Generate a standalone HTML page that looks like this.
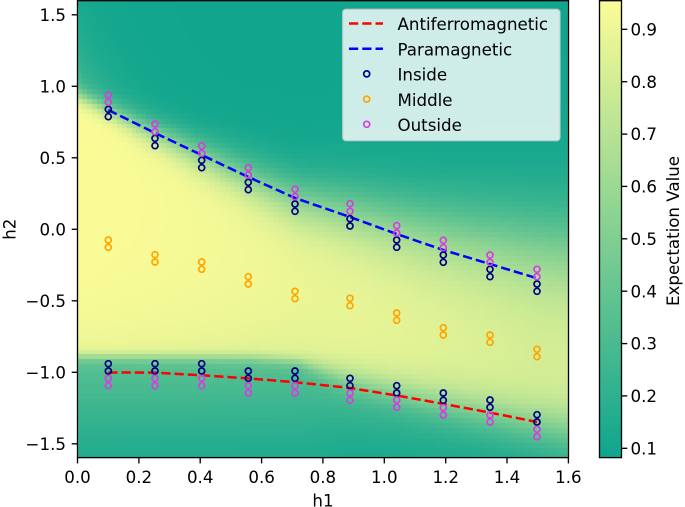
<!DOCTYPE html>
<html>
<head>
<meta charset="utf-8">
<style>
html,body{margin:0;padding:0;background:#fff;}
#wrap{position:relative;width:685px;height:507px;overflow:hidden;background:#fff;}
#c{position:absolute;left:0;top:0;}
#s{position:absolute;left:0;top:0;}
text{font-family:"DejaVu Sans","Liberation Sans",sans-serif;font-size:16.67px;fill:#000;}
</style>
</head>
<body>
<div id="wrap">
<canvas id="c" width="685" height="507"></canvas>
<svg id="s" width="685" height="507" viewBox="0 0 685 507" xmlns="http://www.w3.org/2000/svg">
  <defs>
    <linearGradient id="cb" x1="0" y1="1" x2="0" y2="0">
      <stop offset="0" stop-color="rgb(14,165,142)"/>
      <stop offset="1" stop-color="rgb(252,252,150)"/>
    </linearGradient>
  </defs>

  <!-- series lines -->
  <polyline points="108.3,110 155,133 201.7,155 248.3,177 295,198 350,217 396.7,234 443.3,250 490,264 537,278.3" fill="none" stroke="#0000ff" stroke-width="2.5" stroke-dasharray="9.25 4"/>
  <polyline points="108.3,372.5 155,372.6 201.7,375.3 248.3,378.4 295,382.2 350,388 396.7,395.5 443.3,403.9 490,412.6 537,422" fill="none" stroke="#ff0000" stroke-width="2.5" stroke-dasharray="9.25 4"/>

  <g id="markers"></g>

  <!-- axes frame -->
  <rect x="77.5" y="0.7" width="491" height="456.9" fill="none" stroke="#000" stroke-width="1.33"/>

  <!-- y ticks -->
  <g stroke="#000" stroke-width="1.33">
    <line x1="71.7" y1="14.8" x2="77.5" y2="14.8"/>
    <line x1="71.7" y1="86.3" x2="77.5" y2="86.3"/>
    <line x1="71.7" y1="157.8" x2="77.5" y2="157.8"/>
    <line x1="71.7" y1="229.3" x2="77.5" y2="229.3"/>
    <line x1="71.7" y1="300.8" x2="77.5" y2="300.8"/>
    <line x1="71.7" y1="372.3" x2="77.5" y2="372.3"/>
    <line x1="71.7" y1="443.8" x2="77.5" y2="443.8"/>
  </g>
  <g text-anchor="end">
    <text x="66" y="20.9">1.5</text>
    <text x="66" y="92.4">1.0</text>
    <text x="66" y="163.9">0.5</text>
    <text x="66" y="235.4">0.0</text>
    <text x="66" y="306.9">−0.5</text>
    <text x="66" y="378.4">−1.0</text>
    <text x="66" y="449.9">−1.5</text>
  </g>

  <!-- x ticks -->
  <g stroke="#000" stroke-width="1.33">
    <line x1="77.5" y1="457.6" x2="77.5" y2="463.4"/>
    <line x1="138.9" y1="457.6" x2="138.9" y2="463.4"/>
    <line x1="200.2" y1="457.6" x2="200.2" y2="463.4"/>
    <line x1="261.6" y1="457.6" x2="261.6" y2="463.4"/>
    <line x1="322.9" y1="457.6" x2="322.9" y2="463.4"/>
    <line x1="384.3" y1="457.6" x2="384.3" y2="463.4"/>
    <line x1="445.7" y1="457.6" x2="445.7" y2="463.4"/>
    <line x1="507.0" y1="457.6" x2="507.0" y2="463.4"/>
    <line x1="568.4" y1="457.6" x2="568.4" y2="463.4"/>
  </g>
  <g text-anchor="middle">
    <text x="77.5" y="483">0.0</text>
    <text x="138.9" y="483">0.2</text>
    <text x="200.2" y="483">0.4</text>
    <text x="261.6" y="483">0.6</text>
    <text x="322.9" y="483">0.8</text>
    <text x="384.3" y="483">1.0</text>
    <text x="445.7" y="483">1.2</text>
    <text x="507.0" y="483">1.4</text>
    <text x="568.4" y="483">1.6</text>
  </g>

  <!-- axis labels -->
  <text x="323" y="506.3" text-anchor="middle">h1</text>
  <text transform="translate(15.5,229.2) rotate(-90)" text-anchor="middle">h2</text>

  <!-- legend -->
  <rect x="342.7" y="9.3" width="217.3" height="131.4" rx="3.3" ry="3.3" fill="#ffffff" fill-opacity="0.8" stroke="#cccccc" stroke-opacity="0.8" stroke-width="1.33"/>
  <line x1="349" y1="23.5" x2="383" y2="23.5" stroke="#ff0000" stroke-width="2.5" stroke-dasharray="9.25 4"/>
  <line x1="349" y1="48.7" x2="383" y2="48.7" stroke="#0000ff" stroke-width="2.5" stroke-dasharray="9.25 4"/>
  <circle cx="366.7" cy="73.9" r="3" fill="none" stroke="#000080" stroke-width="1.7"/>
  <circle cx="366.7" cy="99.1" r="3" fill="none" stroke="#ffa500" stroke-width="1.7"/>
  <circle cx="366.7" cy="124.3" r="3" fill="none" stroke="#d63ee0" stroke-width="1.7"/>
  <text x="397.5" y="30.2">Antiferromagnetic</text>
  <text x="397.5" y="55.4">Paramagnetic</text>
  <text x="397.5" y="80.6">Inside</text>
  <text x="397.5" y="105.8">Middle</text>
  <text x="397.5" y="131">Outside</text>

  <!-- colorbar -->
  <rect x="599.5" y="0.7" width="22" height="456.9" fill="url(#cb)" stroke="#000" stroke-width="1.33"/>
  <g stroke="#000" stroke-width="1.33">
    <line x1="621.5" y1="448.3" x2="627.3" y2="448.3"/>
    <line x1="621.5" y1="395.9" x2="627.3" y2="395.9"/>
    <line x1="621.5" y1="343.6" x2="627.3" y2="343.6"/>
    <line x1="621.5" y1="291.2" x2="627.3" y2="291.2"/>
    <line x1="621.5" y1="238.8" x2="627.3" y2="238.8"/>
    <line x1="621.5" y1="186.4" x2="627.3" y2="186.4"/>
    <line x1="621.5" y1="134.1" x2="627.3" y2="134.1"/>
    <line x1="621.5" y1="81.7" x2="627.3" y2="81.7"/>
    <line x1="621.5" y1="29.3" x2="627.3" y2="29.3"/>
  </g>
  <g>
    <text x="630.5" y="454.4">0.1</text>
    <text x="630.5" y="402.0">0.2</text>
    <text x="630.5" y="349.7">0.3</text>
    <text x="630.5" y="297.3">0.4</text>
    <text x="630.5" y="244.9">0.5</text>
    <text x="630.5" y="192.5">0.6</text>
    <text x="630.5" y="140.2">0.7</text>
    <text x="630.5" y="87.8">0.8</text>
    <text x="630.5" y="35.4">0.9</text>
  </g>
  <text transform="translate(679,231) rotate(-90)" text-anchor="middle">Expectation Value</text>
</svg>
</div>
<script>
(function(){
  function sig(z){return 1/(1+Math.exp(-z));}
  function lin(p,x){
    if(x<=p[0][0]) return p[0][1];
    for(var k=1;k<p.length;k++){
      if(x<=p[k][0]){var t=(x-p[k-1][0])/(p[k][0]-p[k-1][0]);return p[k-1][1]+t*(p[k][1]-p[k-1][1]);}
    }
    return p[p.length-1][1];
  }
  var PP=[[77.5,95.5],[108.3,110],[155,133],[201.7,155],[248.3,177],[295,198],[350,217],[396.7,234],[443.3,250],[490,264],[537,278.3],[568.5,287]];
  var A1=[[77.5,0.6],[300,0.6],[350,0.65],[537,0.75],[568.5,0.75]];
  var S1=[[77.5,3],[300,3.5],[350,8],[537,14],[568.5,15]];
  var B1=[[77.5,357],[250,358],[300,362],[350,380],[443,403],[537,424],[568.5,430]];
  var B2=[[77.5,403],[300,405],[350,412],[537,440],[568.5,445]];
  var S2=[[77.5,35],[300,33],[350,25],[537,20],[568.5,20]];
  function field(x,y){
    var P=lin(PP,x);
    var d=Math.max(0,x-300)*0.15;
    var Pc=P-d;
    var Wt=Math.max(5,6+(x-108)*0.055);
    var t=sig((y-Pc)/Wt);
    var a1=lin(A1,x),s1=lin(S1,x),b1=lin(B1,x),b2=lin(B2,x),s2=lin(S2,x);
    var b=a1*sig((b1-y)/s1)+(1-a1)*sig((b2-y)/s2);
    var u=Math.min(1,Math.max(0,(x-78)/460));
    var Hi=0.95-0.12*Math.pow(u,1.3);
    var Lo=0.09;
    var v=Lo+(Hi-Lo)*t*b;
    var E=0.25*Math.exp(-(x-77.5)/40)*Math.exp(-Math.max(0,Pc-y)/50);
    v+=E*(1-t);
    return v;
  }
  function cmap(v){
    var t=(v-0.0824)/(0.954-0.0824);
    if(t<0)t=0;if(t>1)t=1;
    return [Math.round(14+238*t),Math.round(165+87*t),Math.round(142+8*t)];
  }
  var c=document.getElementById('c');
  var ctx=c.getContext('2d');
  var img=ctx.createImageData(685,507);
  var D=img.data;
  for(var q=0;q<D.length;q+=4){D[q]=255;D[q+1]=255;D[q+2]=255;D[q+3]=255;}
  var NX=100,NY=93;
  var cw=491/NX,ch=(457.6-0.7)/NY;
  var cache={};
  for(var py=1;py<458;py++){
    var j=Math.floor((py+0.5-0.7)/ch);
    if(j<0||j>=NY)continue;
    var yc=0.7+(j+0.5)*ch;
    for(var px=78;px<569;px++){
      var i=Math.floor((px+0.5-77.5)/cw);
      if(i<0||i>=NX)continue;
      var xc=77.5+(i+0.5)*cw;
      var key=j*NX+i;
      var col=cache[key];
      if(!col){col=cmap(field(xc,yc));cache[key]=col;}
      var o=(py*685+px)*4;
      D[o]=col[0];D[o+1]=col[1];D[o+2]=col[2];D[o+3]=255;
    }
  }
  ctx.putImageData(img,0,0);

  // markers
  var cols=[
    [108.3,[95,102.3],[109.3,116.7],[240,247.3],[363.7,371],[378.3,385.7]],
    [155,[124,131.7],[138.3,145.7],[254.7,262],[363.7,371],[378.3,385.7]],
    [201.7,[146,153.3],[160.3,167.7],[262,269.3],[363.7,371],[378.3,385.7]],
    [248.3,[167.7,175],[182.3,189.7],[276.7,284],[371,378.3],[385.7,393]],
    [295,[189.3,196.7],[204,211.3],[291.3,298.7],[371,378.3],[385.7,393]],
    [350,[203.7,211.3],[218.7,226],[298.3,305.7],[378.3,385.7],[393,400.3]],
    [396.7,[225.7,233],[240,247.3],[313,320.3],[385.7,393],[400,407.3]],
    [443.3,[240.3,247.7],[255,262.3],[327.7,335],[393,400.3],[407.7,415]],
    [490,[255,262.3],[269.3,276.7],[335,342.3],[400,407.3],[415,422]],
    [537,[269.3,276.7],[284,291.3],[349.3,356.7],[414.7,422],[429.3,436.7]]
  ];
  var ns='http://www.w3.org/2000/svg';
  var g=document.getElementById('markers');
  function circ(x,y,color){
    var e=document.createElementNS(ns,'circle');
    e.setAttribute('cx',x);e.setAttribute('cy',y);e.setAttribute('r','3');
    e.setAttribute('fill','none');e.setAttribute('stroke',color);e.setAttribute('stroke-width','1.7');
    g.appendChild(e);
  }
  cols.forEach(function(c){c[2].forEach(function(y){circ(c[0],y,'#000080');});c[4].forEach(function(y){circ(c[0],y,'#000080');});});
  cols.forEach(function(c){c[3].forEach(function(y){circ(c[0],y,'#ffa500');});});
  cols.forEach(function(c){c[1].forEach(function(y){circ(c[0],y,'#d63ee0');});c[5].forEach(function(y){circ(c[0],y,'#d63ee0');});});
})();
</script>
</body>
</html>
